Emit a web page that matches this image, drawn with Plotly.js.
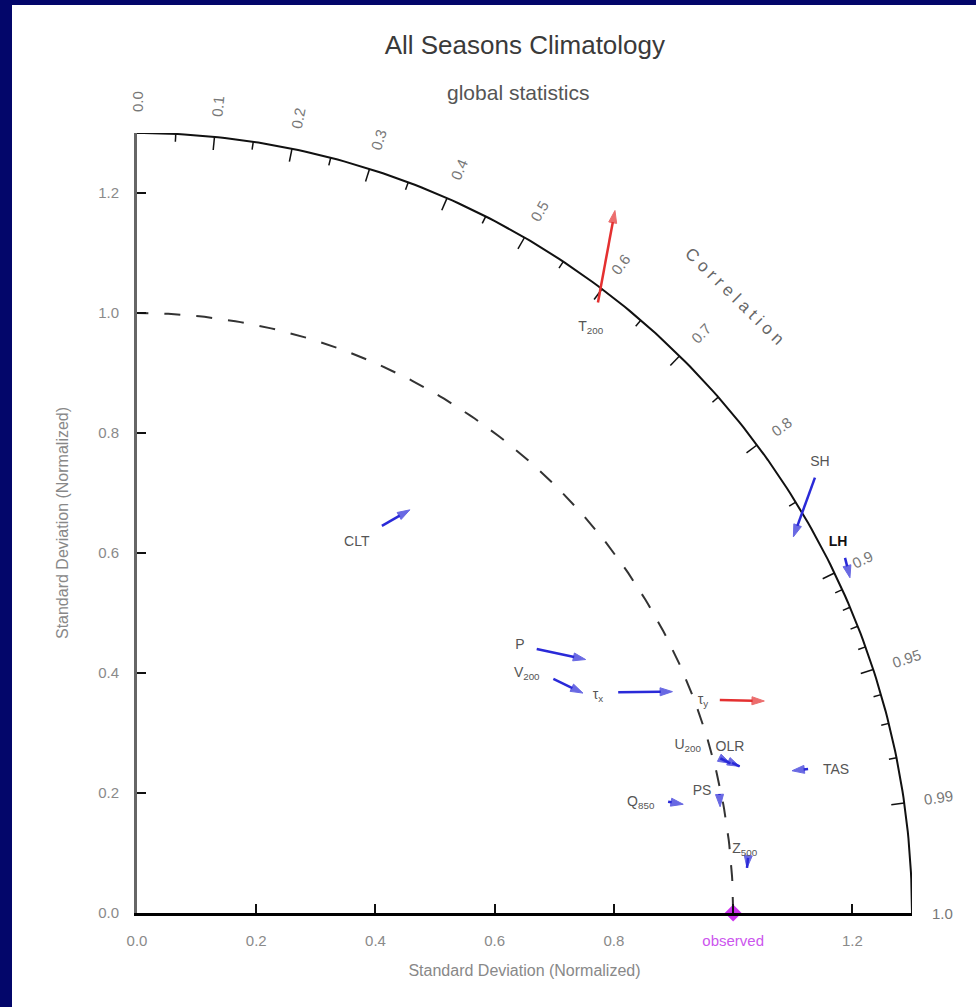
<!DOCTYPE html>
<html><head><meta charset="utf-8">
<script src="https://cdn.plot.ly/plotly-3.0.1.min.js"></script>
<style>
html,body{margin:0;padding:0;background:#03066a;width:976px;height:1007px;overflow:hidden}
#chart{position:absolute;left:12px;top:5px;width:964px;height:1002px;background:#fff}
</style></head><body><div id="chart"></div>
<script>
// ---- data (normalized standard deviation and correlation, old -> new) ----
const variables = ['T<sub>200</sub>','SH','<b>LH</b>','CLT','P','V<sub>200</sub>','τ<sub>x</sub>','τ<sub>y</sub>','U<sub>200</sub>','OLR','TAS','Q<sub>850</sub>','PS','Z<sub>500</sub>'];
const stdOld  = [1.278,1.349,1.327,0.765,0.802,0.800,0.887,1.040,1.012,1.029,1.151,0.910,0.997,1.029];
const corrOld = [0.605,0.843,0.895,0.537,0.836,0.873,0.910,0.940,0.967,0.970,0.978,0.979,0.980,0.9960];
const stdNew  = [1.419,1.267,1.320,0.813,0.863,0.833,0.971,1.110,1.026,1.040,1.124,0.934,0.994,1.026];
const corrNew = [0.565,0.869,0.906,0.563,0.872,0.898,0.925,0.948,0.970,0.972,0.9775,0.981,0.984,0.9973];
const degraded = [true,false,false,false,false,false,false,true,false,false,false,false,false,false];
const observedStd = 1.0;
const corrMajor = [0.0,0.1,0.2,0.3,0.4,0.5,0.6,0.7,0.8,0.9,0.95,0.99,1.0];
const corrMajorText = ['0.0','0.1','0.2','0.3','0.4','0.5','0.6','0.7','0.8','0.9','0.95','0.99','1.0'];
const corrMinor = [0.05,0.15,0.25,0.35,0.45,0.55,0.65,0.75,0.85,0.91,0.92,0.93,0.94,0.96,0.97,0.98];
const sdTicks = [0,0.2,0.4,0.6,0.8,1.0,1.2];
const xTickText = ['0.0','0.2','0.4','0.6','0.8','<span style="color:#cc55ee">observed</span>','1.2'];
const yTickText = ['0.0','0.2','0.4','0.6','0.8','1.0','1.2'];
const corrTitle = 'C o r r e l a t i o n';

// ---- styling / label placement (pixels relative to arrow tail) ----
const labelShift = [[-7,-25],[5,17],[-7,17],[-25,-15],[-17,5],[-26,6],[-20,-3],[-17,0],[-32,13],[-2,17],[28,0],[-27,0],[-17,4],[-3,9]];
const BLUE = '#2a2ad8', RED = '#e43030';
const RMAX = 1.3;
const FONT = 'Liberation Sans, Arial, sans-serif';

const px = (s,c) => s*c;
const py = (s,c) => s*Math.sqrt(Math.max(0,1-c*c));
// data -> paper fraction (axes span [0,RMAX] across the plot area)
const toPaper = v => v/RMAX;

const traces = [];
const arcX=[],arcY=[],refX=[],refY=[];
for(let i=0;i<=180;i++){const t=i/180*Math.PI/2; arcX.push(RMAX*Math.cos(t)); arcY.push(RMAX*Math.sin(t)); refX.push(observedStd*Math.cos(t)); refY.push(observedStd*Math.sin(t));}
traces.push({x:arcX,y:arcY,mode:'lines',line:{color:'#111',width:2},hoverinfo:'skip',cliponaxis:false});
traces.push({x:refX,y:refY,mode:'lines',line:{color:'#333',width:2,dash:'16px,16px'},hoverinfo:'skip'});
function tickTrace(list,len){const X=[],Y=[];list.forEach(c=>{X.push(RMAX*c,(RMAX-len)*c,null);Y.push(py(RMAX,c),py(RMAX-len,c),null);});return {x:X,y:Y,mode:'lines',line:{color:'#111',width:1.5},hoverinfo:'skip',cliponaxis:false};}
traces.push(tickTrace(corrMajor.filter(c=>c>0&&c<1),0.022));
traces.push(tickTrace(corrMinor,0.013));
variables.forEach((v,i)=>{
  const col = degraded[i]?RED:BLUE;
  traces.push({x:[px(stdOld[i],corrOld[i]),px(stdNew[i],corrNew[i])],y:[py(stdOld[i],corrOld[i]),py(stdNew[i],corrNew[i])],
    mode:'lines+markers',line:{color:col,width:2.5},hoverinfo:'skip',
    marker:{symbol:'arrow',size:[0,13],angleref:'previous',color:col,line:{color:col,width:1}},cliponaxis:false});
});
traces.push({x:[observedStd],y:[0],mode:'markers',hoverinfo:'skip',marker:{symbol:'diamond',size:13,color:'#cc33ee'},cliponaxis:false});

const annotations = [];
const ann = o => annotations.push(Object.assign({xref:'paper',yref:'paper',xanchor:'center',yanchor:'middle',showarrow:false},o));
corrMajor.forEach((c,i)=>{
  const t = Math.acos(c); const txt = corrMajorText[i];
  const r = 1.33 + txt.length*4.3/598;
  ann({x:toPaper(r*Math.cos(t)),y:toPaper(r*Math.sin(t)),text:txt,textangle:-t*180/Math.PI,font:{family:FONT,size:15,color:'#777'}});
});
{ const a=45.7*Math.PI/180, r=1.435;
  ann({x:toPaper(r*Math.cos(a)),y:toPaper(r*Math.sin(a)),text:corrTitle,textangle:90-45.7,font:{family:FONT,size:17,color:'#666'}}); }
variables.forEach((v,i)=>{
  const plain = v.replace(/<[^>]+>/g,'');
  ann({x:toPaper(px(stdOld[i],corrOld[i])),y:toPaper(py(stdOld[i],corrOld[i])),text:v,
    width:plain.length*10+6,height:22,
    xshift:labelShift[i][0],yshift:labelShift[i][1],font:{family:FONT,size:14,color:i===2?'#111':'#555'}});
});
ann({x:0.4916,y:1.0513,text:'global statistics',font:{family:FONT,size:21,color:'#555'}});

const axisCommon = {range:[0,RMAX],tickvals:sdTicks,ticks:'inside',ticklen:9,tickwidth:2,tickcolor:'#111',showline:true,showgrid:false,zeroline:false,fixedrange:true,ticklabelstandoff:12,
  tickfont:{family:FONT,size:15,color:'#8a8a8a'}};
const layout = {
  width:964,height:1002,autosize:false,
  margin:{l:125,r:64,t:128,b:94},
  paper_bgcolor:'#ffffff',plot_bgcolor:'rgba(0,0,0,0)',showlegend:false,
  title:{text:'All Seasons Climatology',font:{family:FONT,size:26,color:'#3a3a3a'},x:0.532,xref:'container',xanchor:'center',y:0.96,yref:'container',yanchor:'middle'},
  xaxis:Object.assign({},axisCommon,{ticktext:xTickText,linecolor:'#000',linewidth:3,
    title:{text:'Standard Deviation (Normalized)',standoff:17,font:{family:FONT,size:16,color:'#888'}}}),
  yaxis:Object.assign({},axisCommon,{ticktext:yTickText,linecolor:'#666',linewidth:3,
    title:{text:'Standard Deviation (Normalized)',standoff:26,font:{family:FONT,size:16,color:'#888'}}}),
  annotations:annotations
};
Plotly.newPlot('chart',traces,layout,{displayModeBar:false,staticPlot:true});
</script></body></html>
